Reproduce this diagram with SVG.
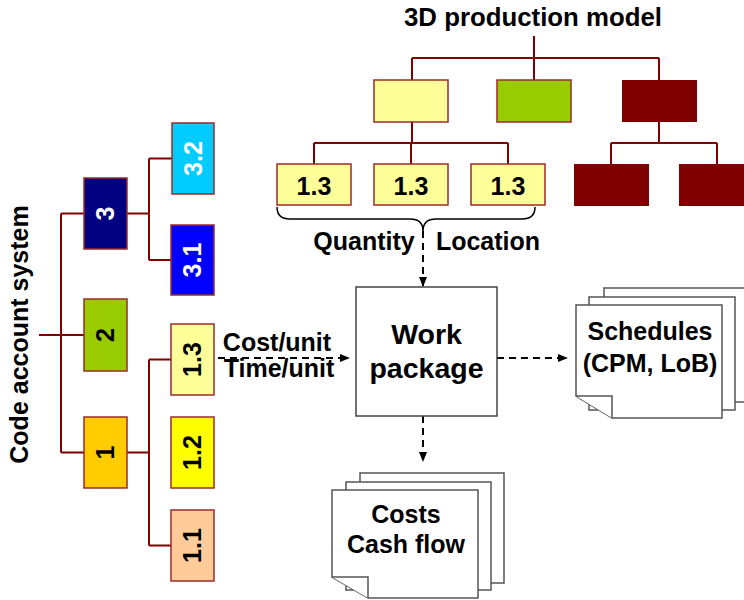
<svg xmlns="http://www.w3.org/2000/svg" width="744" height="600" viewBox="0 0 744 600">
<defs>
<marker id="ah" markerWidth="10" markerHeight="8" refX="10" refY="4" orient="auto" markerUnits="userSpaceOnUse">
<path d="M0,0 L10,4 L0,8 Z" fill="#000"/>
</marker>
<style>
text{font-family:"Liberation Sans",Arial,sans-serif;font-weight:bold;fill:#000;}
.t{font-size:25px;text-anchor:middle;}
.w{fill:#fff;}
.box{stroke:#9C2B2B;stroke-width:1.5;}
.tree{fill:none;stroke:#800000;stroke-width:2;}
.dash{fill:none;stroke:#000;stroke-width:2;stroke-dasharray:7 5;}
.doc{fill:#fff;stroke:#555;stroke-width:1.5;}
</style>
</defs>
<rect width="744" height="600" fill="#fff"/>

<g id="connectors">
<path class="tree" d="M39,335 H84 M61,213.5 V452.5 M61,213.5 H84 M61,452.5 H84 M127,213.5 H149 M149,158.5 V260 M149,158.5 H172 M149,260 H171 M127,452.5 H149 M149,359.5 V545.5 M149,359.5 H171 M149,545.5 H171"/>
<path class="tree" d="M534,36 V58 M412,58 H659 M412,58 V80 M534,58 V80 M659,58 V80 M412,122 V143 M314,143 H508 M314,143 V164 M411,143 V164 M508,143 V164 M659,122 V143 M611,143 H717 M611,143 V164 M717,143 V164"/>
<path d="M277,207 Q277,219 290,219 L410,219 Q423,219 423,231 Q423,219 436,219 L522,219 Q535,219 535,207" fill="none" stroke="#000" stroke-width="1.5"/>
<path class="dash" d="M423,231 V287" marker-end="url(#ah)"/>
<path class="dash" d="M218,358 H350" marker-end="url(#ah)"/>
<path class="dash" d="M497,358 H568" marker-end="url(#ah)"/>
<path class="dash" d="M423,416 V462" marker-end="url(#ah)"/>
</g>

<g id="code-account-label"><text class="t" transform="translate(28,334.5) rotate(-90)">Code account system</text></g>

<g id="n3"><rect class="box" x="84" y="178" width="43" height="71" fill="#000080"/><text class="t w" transform="translate(105.5,213.5) rotate(-90)" dy="0.35em">3</text></g>
<g id="n32"><rect class="box" x="172" y="123" width="42" height="71" fill="#00CCFF"/><text class="t w" transform="translate(193,158.5) rotate(-90)" dy="0.35em">3.2</text></g>
<g id="n31"><rect class="box" x="171" y="225" width="43" height="70" fill="#0000FF"/><text class="t w" transform="translate(192.5,260) rotate(-90)" dy="0.35em">3.1</text></g>
<g id="n2"><rect class="box" x="84" y="299" width="43" height="72" fill="#99CC00"/><text class="t" transform="translate(105.5,335) rotate(-90)" dy="0.35em">2</text></g>
<g id="n1"><rect class="box" x="84" y="417" width="43" height="71" fill="#FFCC00"/><text class="t" transform="translate(105.5,452.5) rotate(-90)" dy="0.35em">1</text></g>
<g id="n13"><rect class="box" x="171" y="324" width="43" height="71" fill="#FFFF99"/><text class="t" transform="translate(192.5,359.5) rotate(-90)" dy="0.35em">1.3</text></g>
<g id="n12"><rect class="box" x="171" y="417" width="43" height="71" fill="#FFFF00"/><text class="t" transform="translate(192.5,452.5) rotate(-90)" dy="0.35em">1.2</text></g>
<g id="n11"><rect class="box" x="171" y="510" width="43" height="71" fill="#FFCC99"/><text class="t" transform="translate(192.5,545.5) rotate(-90)" dy="0.35em">1.1</text></g>

<g id="title"><text class="t" style="font-size:25.8px" x="533" y="26">3D production model</text></g>
<g id="m-yellow"><rect class="box" x="374" y="80" width="74" height="42" fill="#FFFF99"/></g>
<g id="m-green"><rect class="box" x="497" y="80" width="74" height="42" fill="#99CC00"/></g>
<g id="m-red"><rect x="622" y="80" width="75" height="42" fill="#800000"/></g>
<g id="m13a"><rect class="box" x="277" y="164" width="74" height="41" fill="#FFFF99"/><text class="t" x="314" y="195">1.3</text></g>
<g id="m13b"><rect class="box" x="374" y="164" width="74" height="41" fill="#FFFF99"/><text class="t" x="411" y="195">1.3</text></g>
<g id="m13c"><rect class="box" x="471" y="164" width="74" height="41" fill="#FFFF99"/><text class="t" x="508" y="195">1.3</text></g>
<g id="m-red1"><rect x="574" y="164" width="75" height="42" fill="#800000"/></g>
<g id="m-red2"><rect x="679" y="164" width="76" height="42" fill="#800000"/></g>

<g id="labels">
<text class="t" x="364" y="250">Quantity</text>
<text class="t" x="488" y="250">Location</text>
<text class="t" x="277" y="351">Cost/unit</text>
<text class="t" x="279" y="377">Time/unit</text>
</g>

<g id="work-package"><rect x="356" y="287" width="141" height="129" fill="#fff" stroke="#444" stroke-width="1.5"/>
<text class="t" style="font-size:28.5px" x="426.5" y="344">Work</text>
<text class="t" style="font-size:28.5px" x="426.5" y="378">package</text></g>

<g id="schedules">
<rect class="doc" x="604" y="288" width="146" height="114"/>
<rect class="doc" x="589" y="297" width="146" height="113"/>
<path class="doc" d="M576,305 H722 V418 H612 L576,396 Z"/>
<path class="doc" d="M576,396 H612 V418" fill="none"/>
<text class="t" x="650" y="340">Schedules</text>
<text class="t" x="650" y="372">(CPM, LoB)</text>
</g>

<g id="costs">
<rect class="doc" x="360" y="473" width="144" height="110"/>
<rect class="doc" x="346" y="482" width="145" height="108"/>
<path class="doc" d="M332,490 H478 V598 H368 L332,577 Z"/>
<path class="doc" d="M332,577 H368 V598" fill="none"/>
<text class="t" x="406" y="523">Costs</text>
<text class="t" x="406" y="553">Cash flow</text>
</g>
</svg>
